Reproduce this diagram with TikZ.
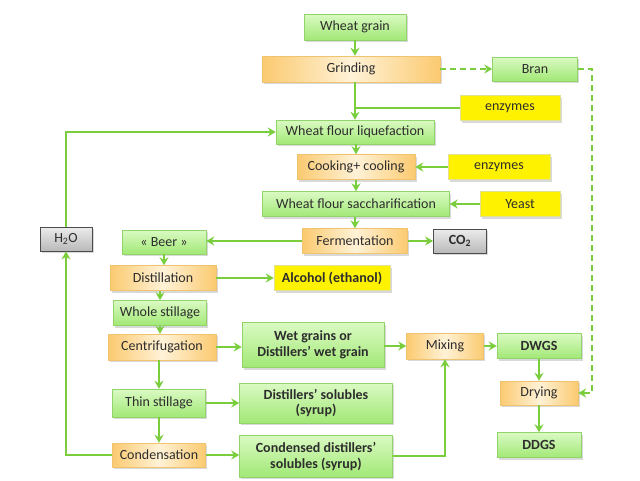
\documentclass[tikz,border=0pt]{standalone}
\usepackage{fontspec}
\setmainfont{Carlito}
\usepackage{tikz}
\usetikzlibrary{arrows.meta,calc,positioning,shadows}

\definecolor{flowgreen}{RGB}{122,206,62}
\definecolor{greenedge}{RGB}{145,212,105}
\definecolor{greenlight}{RGB}{218,250,195}
\definecolor{greendark}{RGB}{162,232,118}
\definecolor{orangeedge}{RGB}{240,195,110}
\definecolor{orangelight}{RGB}{255,242,215}
\definecolor{orangedark}{RGB}{251,202,112}
\definecolor{yellowedge}{RGB}{225,225,150}
\definecolor{txtgray}{RGB}{45,45,45}

\tikzset{
  box/.style={rectangle,inner sep=1pt,align=center,text=txtgray,
              font=\fontsize{14}{16}\selectfont,
              drop shadow={opacity=0.3,shadow xshift=1.5pt,shadow yshift=-2pt}},
  greenbox/.style={box,draw=greenedge,top color=greenlight,bottom color=greendark},
  orangebox/.style={box,draw=orangeedge,left color=orangedark,right color=orangedark,
                    middle color=orangelight},
  yellowbox/.style={box,draw=yellowedge,fill=yellow},
  graybox/.style={box,draw=black!70,top color=gray!15,bottom color=gray!55,thick},
  flow/.style={draw=flowgreen,line width=2.4pt,-{Stealth[length=8pt,width=9pt]}},
  plainflow/.style={draw=flowgreen,line width=2.4pt},
  dashflow/.style={flow,dashed,dash pattern=on 6pt off 4pt},
}

\begin{document}
\begin{tikzpicture}[x=1pt,y=-1pt]
%
  \useasboundingbox (0,0) rectangle (640,480);
%
  % main column
  \node[greenbox,minimum width=102,minimum height=26] (grain) at (355,27) {Wheat grain};
  \node[orangebox,minimum width=178,minimum height=26] (grind) at (351,69) {Grinding};
  \node[greenbox,minimum width=85,minimum height=24] (bran) at (535,69) {Bran};
  \node[yellowbox,minimum width=100,minimum height=25] (enzA) at (510,108) {enzymes};
  \node[greenbox,minimum width=158,minimum height=24] (liq) at (355,132) {Wheat flour liquefaction};
  \node[orangebox,minimum width=118,minimum height=25] (cook) at (356,167) {Cooking+ cooling};
  \node[yellowbox,minimum width=102,minimum height=25] (enzB) at (499,167) {enzymes};
  \node[greenbox,minimum width=187,minimum height=25] (sacch) at (356,204) {Wheat flour saccharification};
  \node[yellowbox,minimum width=80,minimum height=25] (yeast) at (520,204) {Yeast};
  \node[orangebox,minimum width=105,minimum height=25] (ferm) at (355,241) {Fermentation};
  \node[graybox,minimum width=53,minimum height=24] (co2) at (460,241) {\textbf{CO\textsubscript{2}}};
  \node[graybox,minimum width=52,minimum height=24] (h2o) at (66,239) {H\textsubscript{2}O};
%
  % left column
  \node[greenbox,minimum width=84,minimum height=24] (beer) at (164,242) {« Beer »};
  \node[orangebox,minimum width=106,minimum height=25] (dist) at (163,278) {Distillation};
  \node[yellowbox,minimum width=116,minimum height=25] (alc) at (332,278) {\textbf{Alcohol (ethanol)}};
  \node[greenbox,minimum width=93,minimum height=25] (whole) at (160,313) {Whole stillage};
  \node[orangebox,minimum width=108,minimum height=26] (centr) at (162,347) {Centrifugation};
  \node[greenbox,minimum width=142,minimum height=45] (wet) at (313,345)
       {\textbf{Wet grains or}\\\textbf{Distillers’ wet grain}};
  \node[greenbox,minimum width=93,minimum height=28] (thin) at (159,403) {Thin stillage};
  \node[greenbox,minimum width=153,minimum height=40] (sol) at (316,403)
       {\textbf{Distillers’ solubles}\\\textbf{(syrup)}};
  \node[orangebox,minimum width=93,minimum height=24] (cond) at (159,455) {Condensation};
  \node[greenbox,minimum width=153,minimum height=42] (csol) at (316,456)
       {\textbf{Condensed distillers’}\\\textbf{solubles (syrup)}};
%
  % right column
  \node[orangebox,minimum width=77,minimum height=26] (mix) at (445,346) {Mixing};
  \node[greenbox,minimum width=84,minimum height=25] (dwgs) at (539,346) {\textbf{DWGS}};
  \node[orangebox,minimum width=78,minimum height=24] (dry) at (539,393) {Drying};
  \node[greenbox,minimum width=84,minimum height=25] (ddgs) at (539,445) {\textbf{DDGS}};
%
  \draw[flow] (grain.south) -- (grain.south |- grind.north);
  \draw[dashflow] (grind.east) -- (bran.west);
  \draw[dashflow] (bran.east) -- ++(14,0) |- (dry.east);
  \draw[flow] (grind.south -| liq.north) -- (liq.north);
  \draw[plainflow] (enzA.west) -- (enzA.west -| liq.north);
  \draw[flow] (h2o.north) |- (liq.west);
  \draw[flow] (liq.south -| cook.north) -- (cook.north);
  \draw[flow] (enzB.west) -- (cook.east);
  \draw[flow] (cook.south) -- (cook.south |- sacch.north);
  \draw[flow] (yeast.west) -- (sacch.east);
  \draw[flow] (sacch.south -| ferm.north) -- (ferm.north);
  \draw[flow] (ferm.west) -- (ferm.west -| beer.east);
  \draw[flow] (ferm.east) -- (co2.west);
  \draw[flow] (beer.south) -- (beer.south |- dist.north);
  \draw[flow] (dist.east) -- (alc.west);
  \draw[flow] (dist.south -| whole.north) -- (whole.north);
  \draw[flow] (whole.south) -- (whole.south |- centr.north);
  \draw[flow] (centr.east) -- (centr.east -| wet.west);
  \draw[flow] (centr.south -| thin.north) -- (thin.north);
  \draw[flow] (wet.east |- mix.west) -- (mix.west);
  \draw[flow] (mix.east) -- (dwgs.west);
  \draw[flow] (dwgs.south) -- (dry.north);
  \draw[flow] (dry.south) -- (ddgs.north);
  \draw[flow] (thin.east) -- (sol.west);
  \draw[flow] (thin.south) -- (cond.north);
  \draw[flow] (cond.east) -- (cond.east -| csol.west);
  \draw[flow] (csol.east) -| (mix.south);
  \draw[flow] (cond.west) -| (h2o.south);
%
\end{tikzpicture}
\end{document}
